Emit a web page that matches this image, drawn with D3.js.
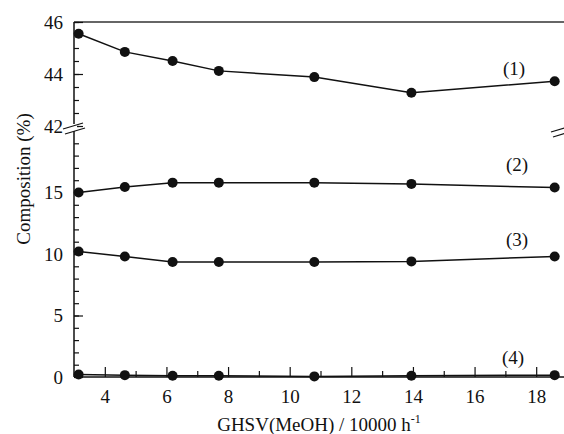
<!DOCTYPE html>
<html>
<head>
<meta charset="utf-8">
<script src="https://cdn.jsdelivr.net/npm/d3@7"></script>
<style>
  body { margin: 0; background: #fff; }
  svg { display: block; }
</style>
</head>
<body>
<div id="chart"></div>
<script>
// GHSV values (x) and the four composition series
const ghsv = [3.15, 4.65, 6.2, 7.7, 10.8, 13.95, 18.6]
const comp1 = [45.55, 44.85, 44.5, 44.12, 43.88, 43.28, 43.72]
const comp2 = [15.0, 15.45, 15.8, 15.8, 15.8, 15.7, 15.4]
const comp3 = [10.2, 9.8, 9.35, 9.35, 9.35, 9.4, 9.8]
const comp4 = [0.2, 0.15, 0.1, 0.1, 0.05, 0.1, 0.15]
const seriesNames = ['(1)', '(2)', '(3)', '(4)']
const xTicks = [4, 6, 8, 10, 12, 14, 16, 18]
const upperTicks = [42, 44, 46]
const lowerTicks = [0, 5, 10, 15]

const W = 564, H = 434
const plotL = 74, plotR = 567, plotT = 22, plotB = 377
const upBot = 126, lowTop = 131
const serif = '"Liberation Serif", "Times New Roman", serif'
const fs = '19px'

const svg = d3.select('#chart').append('svg')
    .attr('width', W)
    .attr('height', H)

const x = d3.scaleLinear().domain([3, 19]).range([plotL, plotR])
const yUp = d3.scaleLinear().domain([42, 46]).range([upBot, plotT])
const yLow = d3.scaleLinear().domain([0, 20]).range([plotB, lowTop])

const ink = '#111'

// frame lines
svg.append('line').attr('x1', plotL).attr('x2', plotR).attr('y1', plotT).attr('y2', plotT)
    .attr('stroke', '#333').attr('stroke-width', 1.5)
svg.append('line').attr('x1', plotL).attr('x2', plotR).attr('y1', plotB).attr('y2', plotB)
    .attr('stroke', ink).attr('stroke-width', 1.5)
svg.append('line').attr('x1', plotL).attr('x2', plotL).attr('y1', plotT).attr('y2', 124)
    .attr('stroke', ink).attr('stroke-width', 1.5)
svg.append('line').attr('x1', plotL).attr('x2', plotL).attr('y1', 131).attr('y2', plotB)
    .attr('stroke', ink).attr('stroke-width', 1.5)

function styleAxis(g) {
    g.attr('font-family', serif).attr('font-size', fs)
    g.select('.domain').remove()
    g.selectAll('line').attr('stroke', ink).attr('stroke-width', 1.2)
    g.selectAll('text').attr('fill', ink)
}

// upper y axis
svg.append('g').attr('transform', `translate(${plotL},0)`)
    .call(d3.axisLeft(yUp).tickValues(d3.range(42, 46.01, 0.5)).tickSize(-5).tickFormat(''))
    .call(styleAxis)
svg.append('g').attr('transform', `translate(${plotL},0)`)
    .call(d3.axisLeft(yUp).tickValues(upperTicks).tickSize(-9).tickPadding(11).tickFormat(d3.format('d')))
    .call(styleAxis)

// lower y axis
svg.append('g').attr('transform', `translate(${plotL},0)`)
    .call(d3.axisLeft(yLow).tickValues(d3.range(1, 20, 1)).tickSize(-5).tickFormat(''))
    .call(styleAxis)
svg.append('g').attr('transform', `translate(${plotL},0)`)
    .call(d3.axisLeft(yLow).tickValues(lowerTicks).tickSize(-9).tickPadding(11).tickFormat(d3.format('d')))
    .call(styleAxis)

// x axis
svg.append('g').attr('transform', `translate(0,${plotB})`)
    .call(d3.axisBottom(x).tickValues([5, 7, 9, 11, 13, 15, 17]).tickSize(-6).tickFormat(''))
    .call(styleAxis)
svg.append('g').attr('transform', `translate(0,${plotB})`)
    .call(d3.axisBottom(x).tickValues(xTicks).tickSize(-10).tickPadding(13).tickFormat(d3.format('d')))
    .call(styleAxis)

// axis break marks
function breakMark(cx, cy) {
    const g = svg.append('g')
    g.append('rect').attr('x', cx - 3).attr('y', cy - 4).attr('width', 6).attr('height', 7).attr('fill', '#fff')
    g.append('line').attr('x1', cx - 11).attr('y1', cy + 1).attr('x2', cx + 9).attr('y2', cy - 5)
        .attr('stroke', ink).attr('stroke-width', 1.2)
    g.append('line').attr('x1', cx - 9).attr('y1', cy + 6).attr('x2', cx + 11).attr('y2', cy)
        .attr('stroke', ink).attr('stroke-width', 1.2)
}
breakMark(plotL, 128)
breakMark(plotR - 5, 131)

// series
const series = [
    { vals: comp1, y: yUp },
    { vals: comp2, y: yLow },
    { vals: comp3, y: yLow },
    { vals: comp4, y: yLow }
]
const labelPos = [[514, 75], [517, 171], [517, 246], [513, 364]]

series.forEach((s, i) => {
    const pts = ghsv.map((g, j) => [g, s.vals[j]])
    const line = d3.line().x(d => x(d[0])).y(d => s.y(d[1]))
    svg.append('path').datum(pts)
        .attr('d', line)
        .attr('fill', 'none')
        .attr('stroke', ink)
        .attr('stroke-width', 1.5)
    svg.selectAll(null).data(pts).enter().append('circle')
        .attr('cx', d => x(d[0]))
        .attr('cy', d => s.y(d[1]))
        .attr('r', 5)
        .attr('fill', ink)
    svg.append('text')
        .attr('x', labelPos[i][0])
        .attr('y', labelPos[i][1])
        .attr('text-anchor', 'middle')
        .attr('font-family', serif)
        .attr('font-size', fs)
        .attr('fill', ink)
        .text(seriesNames[i])
})

// axis titles
svg.append('text')
    .attr('transform', 'translate(30,179) rotate(-90)')
    .attr('text-anchor', 'middle')
    .attr('font-family', serif)
    .attr('font-size', fs)
    .attr('fill', ink)
    .text('Composition (%)')

const xt = svg.append('text')
    .attr('x', 319)
    .attr('y', 431)
    .attr('text-anchor', 'middle')
    .attr('font-family', serif)
    .attr('font-size', fs)
    .attr('fill', ink)
xt.append('tspan').text('GHSV(MeOH) / 10000 h')
xt.append('tspan').attr('dy', -8).attr('font-size', '12px').text('-1')
</script>
</body>
</html>
